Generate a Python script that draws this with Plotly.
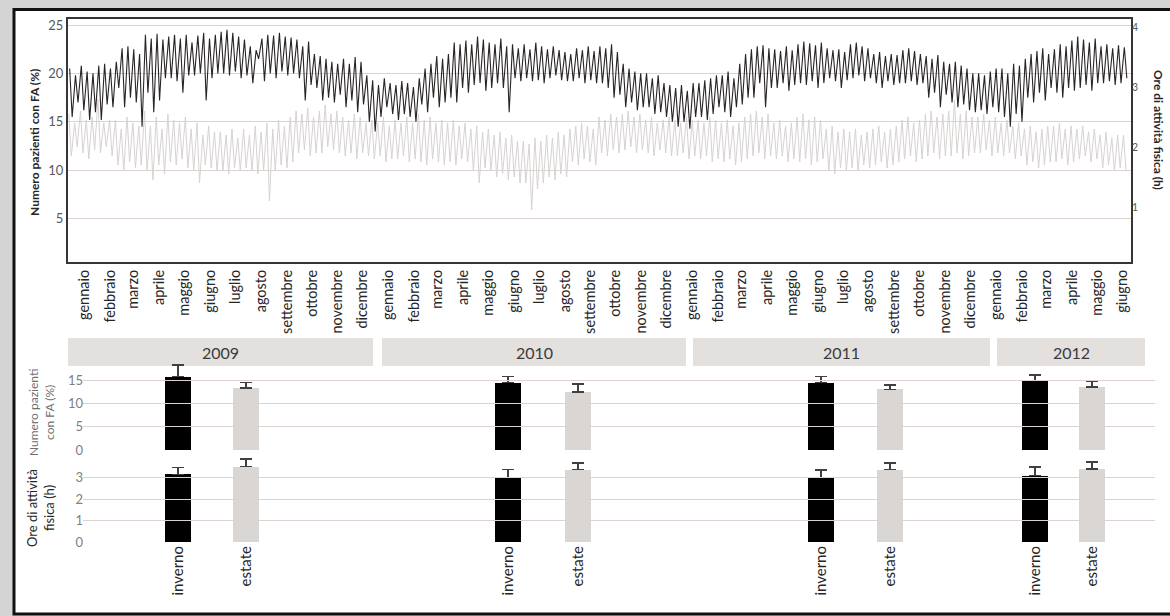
import numpy as np
import plotly.graph_objects as go

W, H = 1170, 616
def px(x): return x / W
def py(y): return 1 - y / H

FONT = "Lato"

months_it = ["gennaio", "febbraio", "marzo", "aprile", "maggio", "giugno",
             "luglio", "agosto", "settembre", "ottobre", "novembre", "dicembre"]
years = ["2009", "2010", "2011", "2012"]
seasons = ["inverno", "estate"]

# ---- weekly readings of the black series (Numero pazienti con FA, %) ----
# weekday plateau (peak) and weekend dip, one value per week
fa_peak_2009 = [20.5, 19.8, 20.8, 20.2, 20.0, 20.8, 21.0, 20.5,
                21.2, 22.6, 22.8, 22.5, 22.0, 24.0, 23.6, 24.1, 23.5,
                23.8, 24.0, 23.6, 24.0, 23.2, 23.9, 24.2, 23.6, 24.0,
                24.3, 24.5, 24.2, 23.8, 23.5, 22.8, 22.4, 23.6,
                24.0, 23.9, 24.2, 23.8, 23.7, 23.5, 22.8, 23.3, 22.0,
                21.8, 21.5, 21.2, 21.0, 21.5, 21.0, 21.7, 21.2, 19.8]
fa_dip_2009 = [15.5, 17.0, 16.2, 15.2, 16.0, 15.2, 16.8, 16.5,
               18.5, 16.5, 17.5, 17.0, 14.5, 18.0, 16.0, 17.2, 19.5,
               19.5, 19.2, 18.0, 19.8, 19.8, 20.0, 17.2, 19.5, 20.0,
               20.0, 19.8, 20.2, 19.5, 19.8, 19.0, 21.5, 19.2,
               20.0, 19.5, 20.2, 19.8, 20.0, 19.5, 17.2, 18.8, 18.5,
               17.2, 17.5, 17.0, 17.8, 16.5, 17.2, 16.0, 16.8, 15.0]
fa_peak_2010 = [19.3, 18.8, 19.5, 19.0, 18.8, 19.2, 19.0, 18.6,
                19.5, 20.5, 21.0, 21.8, 21.5, 22.0, 23.2, 23.0, 23.4,
                23.0, 23.8, 23.5, 23.2, 23.0, 23.6, 22.8, 23.0, 22.6,
                23.0, 22.5, 23.2, 22.8, 22.5, 22.8, 22.4, 22.2,
                22.0, 22.6, 22.4, 22.8, 22.3, 22.8, 22.6, 23.0, 22.2,
                21.0, 20.5, 20.2, 20.0, 20.0, 19.5, 19.8, 19.0, 18.8]
fa_dip_2010 = [14.0, 15.5, 16.5, 15.8, 15.2, 15.8, 15.5, 15.0,
               16.8, 16.0, 17.5, 16.5, 17.0, 17.5, 17.0, 18.5, 18.0,
               18.8, 19.0, 18.2, 18.5, 19.0, 18.5, 16.0, 19.5, 19.2,
               19.5, 19.2, 19.3, 19.0, 19.5, 19.8, 19.3, 19.2,
               19.2, 19.5, 19.0, 19.3, 19.0, 19.0, 18.5, 17.5, 17.8,
               16.5, 17.0, 16.2, 16.5, 16.5, 15.8, 16.0, 15.5, 15.0]
fa_peak_2011 = [18.5, 18.8, 18.2, 19.0, 19.0, 19.3, 19.5, 19.8,
                19.8, 20.2, 19.5, 21.0, 22.0, 22.5, 22.8, 22.9, 22.6,
                22.5, 22.3, 22.8, 22.4, 23.0, 23.3, 23.1, 22.9, 23.2,
                22.6, 22.4, 22.5, 22.2, 23.0, 23.2, 22.8, 22.6,
                22.0, 22.2, 21.8, 22.0, 21.9, 22.4, 22.6, 22.3, 22.0,
                21.8, 21.5, 21.9, 21.2, 21.0, 21.2, 20.8, 20.5, 20.0]
fa_dip_2011 = [14.5, 15.0, 14.3, 15.5, 15.5, 15.2, 15.8, 16.5,
               16.0, 15.5, 16.5, 16.8, 17.5, 17.5, 19.0, 16.5, 18.5,
               18.5, 19.0, 18.2, 18.8, 19.0, 18.8, 19.2, 18.5, 19.0,
               19.5, 19.2, 18.5, 19.3, 19.5, 19.8, 19.2, 19.5,
               19.0, 18.5, 19.2, 18.8, 19.0, 19.0, 19.2, 18.8, 19.0,
               17.5, 18.0, 16.5, 17.8, 17.0, 16.5, 16.8, 16.2, 16.0]
fa_peak_2012 = [20.0, 19.8, 20.2, 20.5, 20.5, 20.0, 21.0, 20.8,
                21.5, 22.0, 22.3, 22.6, 22.0, 22.5, 23.0, 22.8, 23.4,
                23.8, 23.5, 23.2, 23.6, 22.8, 23.0, 22.6, 22.9, 22.7]
fa_dip_2012 = [16.2, 15.8, 16.5, 16.0, 15.5, 14.5, 15.8, 15.0,
               17.5, 17.0, 18.0, 17.2, 18.5, 18.0, 17.5, 18.5, 18.2,
               18.5, 18.8, 18.2, 19.0, 19.0, 19.2, 18.8, 19.0, 19.5]

# ---- weekly readings of the grey series (Ore di attività fisica, h) ----
ore_hi_2009 = [2.55, 2.4, 2.6, 2.45, 2.5, 2.8, 2.4, 2.45,
               2.45, 2.3, 2.5, 2.4, 2.35, 2.6, 2.35, 2.5, 2.3,
               2.55, 2.45, 2.4, 2.5, 2.3, 2.4, 2.2, 2.35, 2.25,
               2.25, 2.2, 2.3, 2.15, 2.3, 2.2, 2.35, 2.25,
               2.4, 2.3, 2.45, 2.35, 2.5, 2.6, 2.55, 2.65, 2.5,
               2.6, 2.7, 2.55, 2.6, 2.5, 2.45, 2.55, 2.5, 2.4]
ore_lo_2009 = [1.85, 2.0, 1.9, 1.8, 1.95, 1.9, 2.0, 1.85,
               1.7, 1.6, 1.75, 1.65, 1.7, 1.6, 1.45, 1.7, 1.55,
               1.75, 1.7, 1.8, 1.65, 1.6, 1.4, 1.7, 1.65, 1.6,
               1.6, 1.55, 1.65, 1.6, 1.65, 1.6, 1.55, 1.6,
               1.1, 1.6, 1.7, 1.65, 1.75, 1.9, 1.95, 1.85, 1.9,
               1.9, 2.0, 1.95, 1.9, 1.85, 1.9, 1.8, 1.9, 1.85]
ore_hi_2010 = [2.45, 2.4, 2.5, 2.35, 2.45, 2.4, 2.5, 2.4,
               2.55, 2.45, 2.5, 2.4, 2.45, 2.4, 2.45, 2.35, 2.4,
               2.3, 2.35, 2.25, 2.3, 2.2, 2.25, 2.15, 2.2, 2.1,
               2.1, 2.05, 2.15, 2.1, 2.2, 2.15, 2.25, 2.2,
               2.3, 2.35, 2.4, 2.35, 2.3, 2.5, 2.45, 2.55, 2.5,
               2.55, 2.6, 2.5, 2.55, 2.45, 2.5, 2.4, 2.45, 2.5]
ore_lo_2010 = [1.8, 1.85, 1.75, 1.8, 1.8, 1.85, 1.75, 1.8,
               1.75, 1.7, 1.8, 1.75, 1.7, 1.75, 1.7, 1.8, 1.75,
               1.6, 1.4, 1.65, 1.6, 1.5, 1.55, 1.45, 1.5, 1.4,
               1.4, 0.95, 1.3, 1.4, 1.5, 1.45, 1.55, 1.5,
               1.75, 1.7, 1.8, 1.75, 1.7, 1.9, 1.85, 1.95, 1.9,
               1.95, 2.0, 1.9, 1.95, 1.9, 1.85, 1.95, 1.9, 1.85]
ore_hi_2011 = [2.45, 2.4, 2.5, 2.45, 2.45, 2.4, 2.5, 2.45,
               2.4, 2.45, 2.35, 2.4, 2.5, 2.55, 2.6, 2.5, 2.55,
               2.4, 2.45, 2.35, 2.4, 2.5, 2.55, 2.45, 2.5, 2.45,
               2.3, 2.35, 2.25, 2.3, 2.25, 2.3, 2.2, 2.25,
               2.3, 2.35, 2.25, 2.3, 2.35, 2.45, 2.5, 2.4, 2.45,
               2.55, 2.6, 2.5, 2.55, 2.6, 2.78, 2.55, 2.6, 2.5]
ore_lo_2011 = [1.85, 1.9, 1.8, 1.85, 1.8, 1.85, 1.75, 1.8,
               1.75, 1.8, 1.7, 1.75, 1.8, 1.85, 1.9, 1.8, 1.85,
               1.8, 1.85, 1.75, 1.8, 1.75, 1.8, 1.7, 1.75, 1.8,
               1.6, 1.55, 1.65, 1.6, 1.65, 1.6, 1.7, 1.65,
               1.7, 1.75, 1.65, 1.7, 1.75, 1.8, 1.85, 1.75, 1.8,
               1.85, 1.9, 1.8, 1.85, 1.85, 1.9, 1.8, 1.85, 1.9]
ore_hi_2012 = [2.5, 2.55, 2.45, 2.5, 2.4, 2.45, 2.35, 2.4,
               2.3, 2.35, 2.25, 2.3, 2.35, 2.35, 2.4, 2.3, 2.35,
               2.3, 2.35, 2.25, 2.3, 2.2, 2.25, 2.15, 2.2, 2.2]
ore_lo_2012 = [1.9, 1.95, 1.85, 1.9, 1.85, 1.9, 1.8, 1.85,
               1.7, 1.75, 1.65, 1.7, 1.75, 1.75, 1.8, 1.7, 1.75,
               1.8, 1.85, 1.75, 1.8, 1.65, 1.7, 1.6, 1.65, 1.6]

# ---- seasonal means (bar panels), with upper error ----
fa_inverno = [15.9, 14.6, 14.6, 15.0]
fa_inverno_err = [2.5, 1.3, 1.3, 1.2]
fa_estate = [13.4, 12.6, 13.1, 13.6]
fa_estate_err = [1.2, 1.7, 1.0, 1.2]
ore_inverno = [3.15, 3.00, 2.99, 3.09]
ore_inverno_err = [0.31, 0.37, 0.37, 0.39]
ore_estate = [3.51, 3.37, 3.37, 3.40]
ore_estate_err = [0.34, 0.31, 0.31, 0.31]

# ---------------------------------------------------------------------------
fa_peak = fa_peak_2009 + fa_peak_2010 + fa_peak_2011 + fa_peak_2012
fa_dip = fa_dip_2009 + fa_dip_2010 + fa_dip_2011 + fa_dip_2012
ore_hi = ore_hi_2009 + ore_hi_2010 + ore_hi_2011 + ore_hi_2012
ore_lo = ore_lo_2009 + ore_lo_2010 + ore_lo_2011 + ore_lo_2012

start = np.datetime64("2009-01-01")
n = len(fa_peak)
week0 = start + np.arange(n) * np.timedelta64(7, "D")

x_fa = np.empty(2 * n, dtype="datetime64[D]")
x_fa[0::2] = week0 + np.timedelta64(2, "D")
x_fa[1::2] = week0 + np.timedelta64(5, "D")
y_fa = np.empty(2 * n)
y_fa[0::2] = fa_peak
y_fa[1::2] = fa_dip

x_ore = np.empty(2 * n, dtype="datetime64[D]")
x_ore[0::2] = week0 + np.timedelta64(1, "D")
x_ore[1::2] = week0 + np.timedelta64(4, "D")
y_ore = np.empty(2 * n)
y_ore[0::2] = ore_hi
y_ore[1::2] = ore_lo

month_starts = np.arange("2009-01", "2012-07", dtype="datetime64[M]")
month_tick = month_starts.astype("datetime64[D]") + np.timedelta64(20, "D")
month_labels = [months_it[i % 12] for i in range(len(month_starts))]

fig = go.Figure()

fig.add_trace(go.Scatter(x=x_ore.astype(str), y=y_ore, yaxis="y2", xaxis="x",
                         mode="lines", line=dict(color="#d8d3d2", width=1),
                         showlegend=False, hoverinfo="skip"))
fig.add_trace(go.Scatter(x=x_fa.astype(str), y=y_fa, yaxis="y", xaxis="x",
                         mode="lines", line=dict(color="#2a2525", width=1.1),
                         showlegend=False, hoverinfo="skip"))

# grid carriers for bar panels
for ya in ["y3", "y4"]:
    fig.add_trace(go.Scatter(x=[0, 1], y=[0, 0], xaxis="x7", yaxis=ya, mode="lines",
                             line=dict(width=0), showlegend=False, hoverinfo="skip"))

bar_colors = ["#000000", "#d9d6d4"]
bar_widths = [0.393, 0.381, 0.387, 0.468]
for i, yr in enumerate(years):
    xa = "x%d" % (i + 3)
    fig.add_trace(go.Bar(x=seasons, y=[fa_inverno[i], fa_estate[i]], xaxis=xa, yaxis="y3",
                         width=bar_widths[i], marker=dict(color=bar_colors, line=dict(width=0)),
                         error_y=dict(type="data", symmetric=False,
                                      array=[fa_inverno_err[i], fa_estate_err[i]],
                                      arrayminus=[0, 0], color="#404040", thickness=1.5, width=6),
                         showlegend=False, hoverinfo="skip"))
    fig.add_trace(go.Bar(x=seasons, y=[ore_inverno[i], ore_estate[i]], xaxis=xa, yaxis="y4",
                         width=bar_widths[i], marker=dict(color=bar_colors, line=dict(width=0)),
                         error_y=dict(type="data", symmetric=False,
                                      array=[ore_inverno_err[i], ore_estate_err[i]],
                                      arrayminus=[0, 0], color="#404040", thickness=1.5, width=6),
                         showlegend=False, hoverinfo="skip"))

grid_c = "#dcd3d1"
layout = dict(
    width=W, height=H, autosize=False,
    margin=dict(l=0, r=0, t=0, b=0, pad=0, autoexpand=False),
    showlegend=False,
    paper_bgcolor="#d4d4d4", plot_bgcolor="rgba(0,0,0,0)",
    font=dict(family=FONT, color="#262626"),
    bargap=0,
    xaxis=dict(type="date", domain=[px(68), px(1131)], anchor="y",
               range=["2009-01-01", "2012-07-01"],
               tickmode="array", tickvals=month_tick.astype(str), ticktext=month_labels,
               tickangle=-90, tickfont=dict(size=14.5, color="#262626"),
               showgrid=False, showline=True, linecolor="#3a3535", linewidth=2,
               mirror=True, ticks="", zeroline=False, automargin=False),
    yaxis=dict(domain=[py(262), py(19)], anchor="x", range=[0.52, 25.62],
               tickmode="array", tickvals=[5, 10, 15, 20, 25],
               tickfont=dict(size=13, color="#595959"),
               showgrid=True, gridcolor=grid_c, gridwidth=1,
               showline=True, linecolor="#3a3535", linewidth=2, mirror=True,
               ticks="", zeroline=False, automargin=False),
    yaxis2=dict(overlaying="y", side="right", anchor="x", range=[0.083, 4.133],
                tickmode="array", tickvals=[1, 2, 3, 4],
                tickfont=dict(size=10.5, color="#595959"),
                showgrid=False, showline=False, ticks="", zeroline=False, automargin=False),
    yaxis3=dict(domain=[py(450), py(361)], anchor="free", position=px(83),
                range=[0, 19.26], tickmode="array", tickvals=[0, 5, 10, 15],
                tickfont=dict(size=13, color="#7f7f7f"),
                showgrid=True, gridcolor=grid_c, gridwidth=1.2,
                showline=False, ticks="", zeroline=False, automargin=False),
    yaxis4=dict(domain=[py(542), py(456)], anchor="free", position=px(83),
                range=[0, 4.0], tickmode="array", tickvals=[0, 1, 2, 3],
                tickfont=dict(size=13, color="#7f7f7f"),
                showgrid=True, gridcolor=grid_c, gridwidth=1.2,
                showline=False, ticks="", zeroline=False, automargin=False),
    xaxis7=dict(domain=[px(83), px(1155)], anchor="y4", range=[0, 1], visible=False),
)

year_boxes = [(68, 373), (382, 686), (693, 990), (997, 1145)]
bar_domains = [(83, 373), (382, 686), (693, 990), (997, 1145)]
bar_ranges = [[-1.397, 2.868], [-1.8, 2.543], [-1.855, 2.449], [-0.667, 1.930]]
for i in range(4):
    layout["xaxis%d" % (i + 3)] = dict(
        type="category", categoryorder="array", categoryarray=seasons,
        domain=[px(bar_domains[i][0]), px(bar_domains[i][1])], anchor="y4",
        range=bar_ranges[i], tickangle=-90,
        tickfont=dict(size=15, color="#262626"),
        showgrid=False, showline=False, ticks="", zeroline=False, automargin=False)

shapes = [dict(type="rect", xref="paper", yref="paper", x0=px(14), x1=px(1190),
               y0=py(614), y1=py(9.5), fillcolor="white",
               line=dict(color="#111111", width=3), layer="below")]
annotations = []
for i, (a, b) in enumerate(year_boxes):
    shapes.append(dict(type="rect", xref="paper", yref="paper", x0=px(a), x1=px(b),
                       y0=py(366), y1=py(338), fillcolor="#e4e0de",
                       line=dict(width=0), layer="below"))
    annotations.append(dict(x=px((a + b) / 2), y=py(352), xref="paper", yref="paper",
                            text=years[i], showarrow=False,
                            font=dict(size=16, color="#3a3a3a"),
                            xanchor="center", yanchor="middle"))

annotations += [
    dict(x=px(34), y=py(143), xref="paper", yref="paper", textangle=-90,
         text="<b>Numero pazienti con FA (%)</b>", showarrow=False,
         font=dict(size=12, color="#262626"), xanchor="center", yanchor="middle"),
    dict(x=px(1159), y=py(130), xref="paper", yref="paper", textangle=90,
         text="<b>Ore di attività fisica (h)</b>", showarrow=False,
         font=dict(size=12, color="#262626"), xanchor="center", yanchor="middle"),
    dict(x=px(41), y=py(413), xref="paper", yref="paper", textangle=-90,
         text="Numero pazienti<br>con FA (%)", showarrow=False,
         font=dict(size=12, color="#6f6f6f"), xanchor="center", yanchor="middle"),
    dict(x=px(40), y=py(508), xref="paper", yref="paper", textangle=-90,
         text="Ore di attività<br>fisica (h)", showarrow=False,
         font=dict(size=13, color="#262626"), xanchor="center", yanchor="middle"),
]
layout["shapes"] = shapes
layout["annotations"] = annotations

fig.update_layout(**layout)
fig.write_html("out.html", config={"displayModeBar": False},
               post_script="document.body.style.margin='0';"
                           "document.body.style.overflow='hidden';")
